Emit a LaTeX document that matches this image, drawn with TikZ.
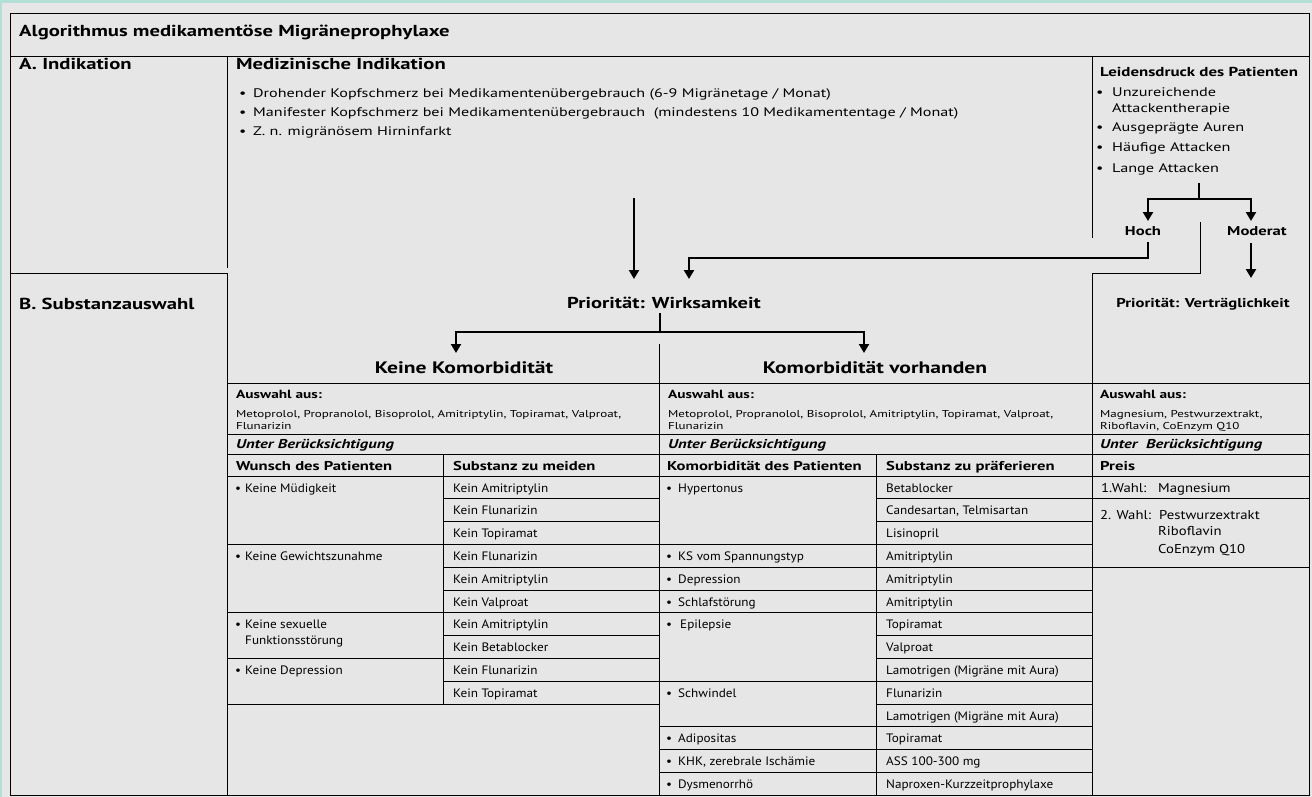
\documentclass[tikz,border=0pt]{standalone}
\usepackage{fontspec}
\setmainfont{PT Sans}
\newfontfamily\fontWide[FakeStretch=1.3]{PT Sans}
\newfontfamily\fontMid[FakeStretch=1.15]{PT Sans}
\newfontfamily\fontTab[FakeStretch=1.08]{PT Sans}
\usetikzlibrary{arrows.meta}
\definecolor{bgc}{RGB}{230,230,230}
\definecolor{tealbar}{RGB}{178,224,214}
\newcommand\setfs[1]{\fontsize{#1}{#1}\selectfont}
\newcommand\bul[1]{\makebox[#1][l]{\textbullet}}
\tikzset{
  frame/.style={line width=1pt, black},
  conn/.style={line width=2.4pt, black},
  arr/.style={conn, -{Triangle[width=10pt,length=9pt]}},
  tx/.style={anchor=base west, inner sep=0pt, text=black},
  sec/.style={tx, font=\fontWide\setfs{15.9}\bfseries},
  ind/.style={tx, font=\fontWide\setfs{12.4}},
  rbul/.style={tx, font=\fontWide\setfs{12.5}},
  rhead/.style={tx, font=\fontWide\setfs{13}\bfseries},
  mid/.style={anchor=base, inner sep=0pt, font=\fontWide\setfs{12.8}\bfseries},
  big/.style={anchor=base, inner sep=0pt, font=\fontWide\setfs{16.6}\bfseries},
  hb/.style={tx, font=\fontWide\setfs{12.8}\bfseries},
  aw/.style={tx, font=\fontWide\setfs{11.8}\bfseries},
  sm/.style={tx, font=\fontWide\setfs{10}},
  ub/.style={tx, font=\fontWide\setfs{12.8}\bfseries\itshape},
  cell/.style={tx, font=\fontTab\setfs{12.2}},
  rcell/.style={tx, font=\fontMid\setfs{12.8}},
}
\begin{document}
\begin{tikzpicture}[x=1pt,y=-1pt]
\useasboundingbox (0,0) rectangle (1312,797);
\fill[bgc] (0,0) rectangle (1312,797);
\fill[tealbar] (0,0) rectangle (1312,3.5);
\fill[tealbar] (0,0) rectangle (2,797);
% frame
\draw[frame] (10,14) rectangle (1309,795);
\draw[frame] (10,57) -- (1309,57);
\draw[frame] (227,57) -- (227,268);
\draw[frame] (10,273) -- (227,273) -- (227,795);
\draw[frame] (1092,57) -- (1092,238);
\draw[frame] (1200,222) -- (1200,273) -- (1092,273) -- (1092,795);
\draw[frame] (659,344) -- (659,795);
\foreach \y in {383,434,454,476} \draw[frame] (227,\y) -- (1309,\y);
\draw[frame] (443,454) -- (443,704);
\draw[frame] (876,454) -- (876,795);
\foreach \i in {3,6,8,10} \draw[frame] (227,{476+\i*22.8}) -- (659,{476+\i*22.8});
\foreach \i in {1,2,4,5,7,9} \draw[frame] (443,{476+\i*22.8}) -- (659,{476+\i*22.8});
\foreach \i in {3,4,5,6,9,11,12,13} \draw[frame] (659,{476+\i*22.8}) -- (1092,{476+\i*22.8});
\foreach \i in {1,2,7,8,10} \draw[frame] (876,{476+\i*22.8}) -- (1092,{476+\i*22.8});
\draw[frame] (1092,498.8) -- (1309,498.8);
\draw[frame] (1092,567.2) -- (1309,567.2);

% titles
\node[sec] (ttl) at (19,37) {Algorithmus medikamentöse Migräneprophylaxe};
\node[sec] (secA) at (19,70) {A. Indikation};
\node[sec] (secB) at (19,309) {B. Substanzauswahl};
\node[sec] (medind) at (236,70) {Medizinische Indikation};
\node[ind] (mi1) at (239,98) {\bul{14pt}Drohender Kopfschmerz bei Medikamentenübergebrauch (6-9 Migränetage / Monat)};
\node[ind] (mi2) at (239,117) {\bul{14pt}Manifester Kopfschmerz bei Medikamentenübergebrauch\ \ (mindestens 10 Medikamententage / Monat)};
\node[ind] (mi3) at (239,136) {\bul{14pt}Z. n. migränösem Hirninfarkt};

\node[rhead] (leid) at (1100,77) {Leidensdruck des Patienten};
\node[rbul] (lb1) at (1096,97) {\bul{16pt}Unzureichende};
\node[rbul] (lb1b) at (1112,113) {Attackentherapie};
\node[rbul] (lb2) at (1096,132) {\bul{16pt}Ausgeprägte Auren};
\node[rbul] (lb3) at (1096,152) {\bul{16pt}Häufige Attacken};
\node[rbul] (lb4) at (1096,172) {\bul{16pt}Lange Attacken};

\node[mid] (hoch) at (1143,235) {Hoch};
\node[mid] (moderat) at (1257,235) {Moderat};
\node[mid] (vertr) at (1203,307) {Priorität: Verträglichkeit};
\node[big, font=\fontWide\setfs{15.8}\bfseries] (wirk) at (664,308) {Priorität: Wirksamkeit};
\node[big] (keine) at (464,373) {Keine Komorbidität};
\node[big] (komv) at (875,373) {Komorbidität vorhanden};

% connectors
\coordinate (lstem) at (1199,183);
\coordinate (lfork) at (1199,199);
\coordinate (hochin) at (1148,221);
\coordinate (modin) at (1251,221);
\draw[conn] (lstem) -- (lfork);
\draw[arr] (lfork) -| (hochin);
\draw[arr] (lfork) -| (modin);
\coordinate (modout) at (1251,243);
\coordinate (vertrin) at (1251,278);
\draw[arr] (modout) -- (vertrin);
\coordinate (hochout) at (1148,242);
\coordinate (hochbend) at (1148,258);
\coordinate (wirkin2) at (689,279);
\draw[arr] (hochout) -- (hochbend) -| (wirkin2);
\coordinate (medout) at (634,198);
\coordinate (wirkin1) at (634,279);
\draw[arr] (medout) -- (wirkin1);
\coordinate (wstem) at (660,313);
\coordinate (wfork) at (660,332);
\coordinate (keinein) at (456,353);
\coordinate (komin) at (864,353);
\draw[conn] (wstem) -- (wfork);
\draw[arr] (wfork) -| (keinein);
\draw[arr] (wfork) -| (komin);

% Auswahl rows
\node[aw] (aw1) at (236,398) {Auswahl aus:};
\node[sm] (aw1a) at (236,417) {Metoprolol, Propranolol, Bisoprolol, Amitriptylin, Topiramat, Valproat,};
\node[sm] (aw1b) at (236,429) {Flunarizin};
\node[aw] (aw2) at (668,398) {Auswahl aus:};
\node[sm] (aw2a) at (668,417) {Metoprolol, Propranolol, Bisoprolol, Amitriptylin, Topiramat, Valproat,};
\node[sm] (aw2b) at (668,429) {Flunarizin};
\node[aw] (aw3) at (1100,398) {Auswahl aus:};
\node[sm] (aw3a) at (1100,417) {Magnesium, Pestwurzextrakt,};
\node[sm] (aw3b) at (1100,429) {Riboflavin, CoEnzym Q10};
\node[ub] (ub1) at (236,448) {Unter Berücksichtigung};
\node[ub] (ub2) at (668,448) {Unter Berücksichtigung};
\node[ub] (ub3) at (1100,448) {Unter\ \ Berücksichtigung};
\node[hb] (h1) at (236,470) {Wunsch des Patienten};
\node[hb] (h2) at (453,470) {Substanz zu meiden};
\node[hb] (h3) at (667,470) {Komorbidität des Patienten};
\node[hb] (h4) at (886,470) {Substanz zu präferieren};
\node[hb] (h5) at (1100,470) {Preis};

% left table
\node[cell] (w1) at (235,{476+0*22.8+16}) {\bul{10pt}Keine Müdigkeit};
\node[cell] (w2) at (235,{476+3*22.8+16}) {\bul{10pt}Keine Gewichtszunahme};
\node[cell] (w3) at (235,{476+6*22.8+16}) {\bul{10pt}Keine sexuelle};
\node[cell] (w3b) at (245,{476+6*22.8+32}) {Funktionsstörung};
\node[cell] (w4) at (235,{476+8*22.8+16}) {\bul{10pt}Keine Depression};
\foreach \i/\t [count=\k] in {0/Kein Amitriptylin,1/Kein Flunarizin,2/Kein Topiramat,3/Kein Flunarizin,4/Kein Amitriptylin,5/Kein Valproat,6/Kein Amitriptylin,7/Kein Betablocker,8/Kein Flunarizin,9/Kein Topiramat}
  \node[cell] (s\k) at (453,{476+\i*22.8+16}) {\t};

% right table
\node[cell] (k1) at (666,{476+0*22.8+16}) {\bul{12pt}Hypertonus};
\node[cell] (k2) at (666,{476+3*22.8+16}) {\bul{12pt}KS vom Spannungstyp};
\node[cell] (k3) at (666,{476+4*22.8+16}) {\bul{12pt}Depression};
\node[cell] (k4) at (666,{476+5*22.8+16}) {\bul{12pt}Schlafstörung};
\node[cell] (k5) at (666,{476+6*22.8+16}) {\bul{14pt}Epilepsie};
\node[cell] (k6) at (666,{476+9*22.8+16}) {\bul{12pt}Schwindel};
\node[cell] (k7) at (666,{476+11*22.8+16}) {\bul{12pt}Adipositas};
\node[cell] (k8) at (666,{476+12*22.8+16}) {\bul{12pt}KHK, zerebrale Ischämie};
\node[cell] (k9) at (666,{476+13*22.8+16}) {\bul{12pt}Dysmenorrhö};
\foreach \i/\t [count=\k] in {0/Betablocker,1/{Candesartan, Telmisartan},2/Lisinopril,3/Amitriptylin,4/Amitriptylin,5/Amitriptylin,6/Topiramat,7/Valproat,8/Lamotrigen (Migräne mit Aura),9/Flunarizin,10/Lamotrigen (Migräne mit Aura),11/Topiramat,12/ASS 100-300 mg,13/Naproxen-Kurzzeitprophylaxe}
  \node[cell] (p\k) at (886,{476+\i*22.8+16}) {\t};

% right column
\node[rcell] (r1) at (1101,492) {1.Wahl:};
\node[rcell] (r1b) at (1158,492) {Magnesium};
\node[rcell] (r2) at (1100,519) {2. Wahl:};
\node[rcell] (r2b) at (1159,519) {Pestwurzextrakt};
\node[rcell] (r2c) at (1158,535) {Riboflavin};
\node[rcell] (r2d) at (1158,553) {CoEnzym Q10};
\end{tikzpicture}
\end{document}
